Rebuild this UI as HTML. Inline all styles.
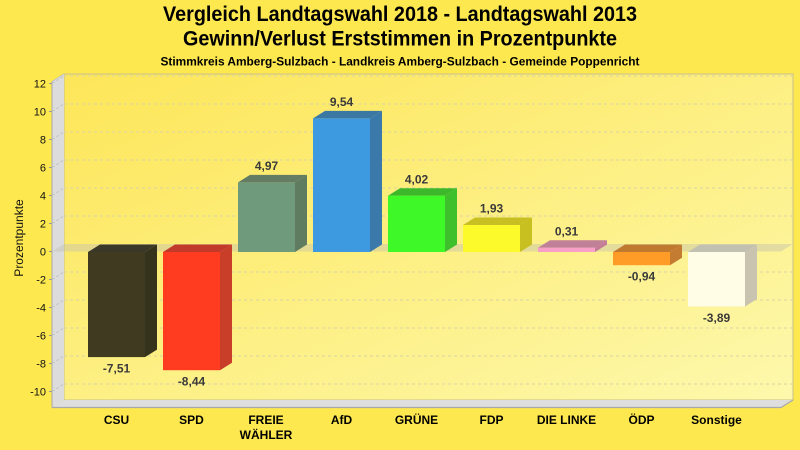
<!DOCTYPE html>
<html><head><meta charset="utf-8">
<style>
html,body{margin:0;padding:0;background:#fee850;}
svg{display:block;}
text{font-family:"Liberation Sans",Arial,sans-serif;}
</style></head>
<body>
<svg width="800" height="450" viewBox="0 0 800 450" xmlns="http://www.w3.org/2000/svg">
<defs>
<linearGradient id="bg" x1="0" y1="0" x2="1" y2="1">
<stop offset="0" stop-color="#fde658"/>
<stop offset="1" stop-color="#fdf8ac"/>
</linearGradient>
</defs>
<rect x="0" y="0" width="800" height="450" fill="#fee850"/>
<!-- titles -->
<text x="400" y="21" text-anchor="middle" font-size="21" font-weight="bold" fill="#000" textLength="474" lengthAdjust="spacingAndGlyphs">Vergleich Landtagswahl 2018 - Landtagswahl 2013</text>
<text x="400" y="45.5" text-anchor="middle" font-size="21" font-weight="bold" fill="#000" textLength="434" lengthAdjust="spacingAndGlyphs">Gewinn/Verlust Erststimmen in Prozentpunkte</text>
<text x="400" y="65.5" text-anchor="middle" font-size="12" font-weight="bold" fill="#000" textLength="479" lengthAdjust="spacingAndGlyphs">Stimmkreis Amberg-Sulzbach - Landkreis Amberg-Sulzbach - Gemeinde Poppenricht</text>

<!-- back wall -->
<rect x="64" y="74" width="729" height="326" fill="url(#bg)" stroke="#c8c08a" stroke-width="1"/>
<!-- left wall -->
<polygon points="52,81.5 64,74 64,400 52,407.5" fill="#dcdcdc"/>
<line x1="52" y1="81.5" x2="52" y2="407.5" stroke="#a8a8a8" stroke-width="1"/>
<line x1="52" y1="81.5" x2="64" y2="74" stroke="#c0c0c0" stroke-width="1"/>
<!-- grid lines -->
<g stroke="#d9d3a6" stroke-width="1" stroke-dasharray="3,3" fill="none">
<line x1="64" y1="76" x2="793" y2="76"/>
<line x1="64" y1="104" x2="793" y2="104"/>
<line x1="64" y1="132" x2="793" y2="132"/>
<line x1="64" y1="160" x2="793" y2="160"/>
<line x1="64" y1="188" x2="793" y2="188"/>
<line x1="64" y1="216" x2="793" y2="216"/>
<line x1="64" y1="272" x2="793" y2="272"/>
<line x1="64" y1="300" x2="793" y2="300"/>
<line x1="64" y1="328" x2="793" y2="328"/>
<line x1="64" y1="356" x2="793" y2="356"/>
<line x1="64" y1="384" x2="793" y2="384"/>
</g>
<g stroke="#c4c4c4" stroke-width="1" stroke-dasharray="3,2" fill="none">
<line x1="52" y1="83.5" x2="64" y2="76"/>
<line x1="52" y1="111.5" x2="64" y2="104"/>
<line x1="52" y1="139.5" x2="64" y2="132"/>
<line x1="52" y1="167.5" x2="64" y2="160"/>
<line x1="52" y1="195.5" x2="64" y2="188"/>
<line x1="52" y1="223.5" x2="64" y2="216"/>
<line x1="52" y1="279.5" x2="64" y2="272"/>
<line x1="52" y1="307.5" x2="64" y2="300"/>
<line x1="52" y1="335.5" x2="64" y2="328"/>
<line x1="52" y1="363.5" x2="64" y2="356"/>
<line x1="52" y1="391.5" x2="64" y2="384"/>
</g>
<!-- floor -->
<polygon points="52,407.5 64,400 793,400 781,407.5" fill="#dedede"/>
<polyline points="52,407.5 781,407.5 793,400" fill="none" stroke="#a8a8a8" stroke-width="1.2"/>
<!-- zero plane -->
<polygon points="52,251.5 64,244 793,244 781,251.5" fill="#c4c0b0" fill-opacity="0.45"/>

<!-- y tick labels -->
<g font-size="11" fill="#111" text-anchor="end">
<text x="46" y="87.5">12</text>
<text x="46" y="115.5">10</text>
<text x="46" y="143.5">8</text>
<text x="46" y="171.5">6</text>
<text x="46" y="199.5">4</text>
<text x="46" y="227.5">2</text>
<text x="46" y="255.5">0</text>
<text x="46" y="283.5">-2</text>
<text x="46" y="311.5">-4</text>
<text x="46" y="339.5">-6</text>
<text x="46" y="367.5">-8</text>
<text x="46" y="395.5">-10</text>
</g>
<g stroke="#999" stroke-width="1">
<line x1="49" y1="83.5" x2="52" y2="83.5"/>
<line x1="49" y1="111.5" x2="52" y2="111.5"/>
<line x1="49" y1="139.5" x2="52" y2="139.5"/>
<line x1="49" y1="167.5" x2="52" y2="167.5"/>
<line x1="49" y1="195.5" x2="52" y2="195.5"/>
<line x1="49" y1="223.5" x2="52" y2="223.5"/>
<line x1="49" y1="251.5" x2="52" y2="251.5"/>
<line x1="49" y1="279.5" x2="52" y2="279.5"/>
<line x1="49" y1="307.5" x2="52" y2="307.5"/>
<line x1="49" y1="335.5" x2="52" y2="335.5"/>
<line x1="49" y1="363.5" x2="52" y2="363.5"/>
<line x1="49" y1="391.5" x2="52" y2="391.5"/>
</g>
<text transform="translate(23,238) rotate(-90)" text-anchor="middle" font-size="12" fill="#111">Prozentpunkte</text>

<!-- bars -->
<!-- CSU -7.51 : x=88 top 252 bottom 357.1 -->
<polygon points="88,252 100,244.5 157,244.5 145,252" fill="#3a3828"/>
<polygon points="145,252 157,244.5 157,349.6 145,357.1" fill="#36331c"/>
<rect x="88" y="252" width="57" height="105.1" fill="#403b20"/>
<!-- SPD -8.44 : x=163 bottom 370.2 -->
<polygon points="163,252 175,244.5 232,244.5 220,252" fill="#c23a2a"/>
<polygon points="220,252 232,244.5 232,362.7 220,370.2" fill="#c83e28"/>
<rect x="163" y="252" width="57" height="118.2" fill="#ff3c20"/>
<!-- FW 4.97 : x=238 top 182.4 -->
<polygon points="238,182.4 250,174.9 307,174.9 295,182.4" fill="#637c63"/>
<polygon points="295,182.4 307,174.9 307,244.5 295,252" fill="#5f7b60"/>
<rect x="238" y="182.4" width="57" height="69.6" fill="#6f9a7c"/>
<!-- AfD 9.54 : x=313 top 118.4 -->
<polygon points="313,118.4 325,110.9 382,110.9 370,118.4" fill="#3c78a4"/>
<polygon points="370,118.4 382,110.9 382,244.5 370,252" fill="#3b79aa"/>
<rect x="313" y="118.4" width="57" height="133.6" fill="#3d9ae0"/>
<!-- GRUENE 4.02 : x=388 top 195.7 -->
<polygon points="388,195.7 400,188.2 457,188.2 445,195.7" fill="#3cb82a"/>
<polygon points="445,195.7 457,188.2 457,244.5 445,252" fill="#3dc02c"/>
<rect x="388" y="195.7" width="57" height="56.3" fill="#3ef828"/>
<!-- FDP 1.93 : x=463 top 225 -->
<polygon points="463,225 475,217.5 532,217.5 520,225" fill="#c8bf22"/>
<polygon points="520,225 532,217.5 532,244.5 520,252" fill="#c8c020"/>
<rect x="463" y="225" width="57" height="27" fill="#fcfa2a"/>
<!-- LINKE 0.31 : x=538 top 247.7 -->
<polygon points="538,247.7 550,240.2 607,240.2 595,247.7" fill="#c08098"/>
<polygon points="595,247.7 607,240.2 607,244.5 595,252" fill="#c47c98"/>
<rect x="538" y="247.7" width="57" height="4.3" fill="#f8a0c8"/>
<!-- OEDP -0.94 : x=613 bottom 265.2 -->
<polygon points="613,252 625,244.5 682,244.5 670,252" fill="#c07a30"/>
<polygon points="670,252 682,244.5 682,257.7 670,265.2" fill="#c47c30"/>
<rect x="613" y="252" width="57" height="13.2" fill="#ff9c28"/>
<!-- Sonstige -3.89 : x=688 bottom 306.5 -->
<polygon points="688,252 700,244.5 757,244.5 745,252" fill="#c2c0b0"/>
<polygon points="745,252 757,244.5 757,299 745,306.5" fill="#c8c4b0"/>
<rect x="688" y="252" width="57" height="54.5" fill="#fffde6"/>

<!-- value labels -->
<g font-size="12" font-weight="bold" fill="#3a3a3a" text-anchor="middle">
<text x="116.5" y="372.5">-7,51</text>
<text x="191.5" y="385.5">-8,44</text>
<text x="266.5" y="170">4,97</text>
<text x="341.5" y="106">9,54</text>
<text x="416.5" y="183.3">4,02</text>
<text x="491.5" y="212.6">1,93</text>
<text x="566.5" y="235.3">0,31</text>
<text x="641.5" y="280.7">-0,94</text>
<text x="716.5" y="322">-3,89</text>
</g>

<!-- category labels -->
<g font-size="12" font-weight="bold" fill="#000" text-anchor="middle">
<text x="116.5" y="424">CSU</text>
<text x="191.5" y="424">SPD</text>
<text x="266" y="424">FREIE</text>
<text x="266" y="439">WÄHLER</text>
<text x="341.5" y="424">AfD</text>
<text x="416.5" y="424">GRÜNE</text>
<text x="491.5" y="424">FDP</text>
<text x="566.5" y="424">DIE LINKE</text>
<text x="641.5" y="424">ÖDP</text>
<text x="716.5" y="424">Sonstige</text>
</g>
</svg>
</body></html>
